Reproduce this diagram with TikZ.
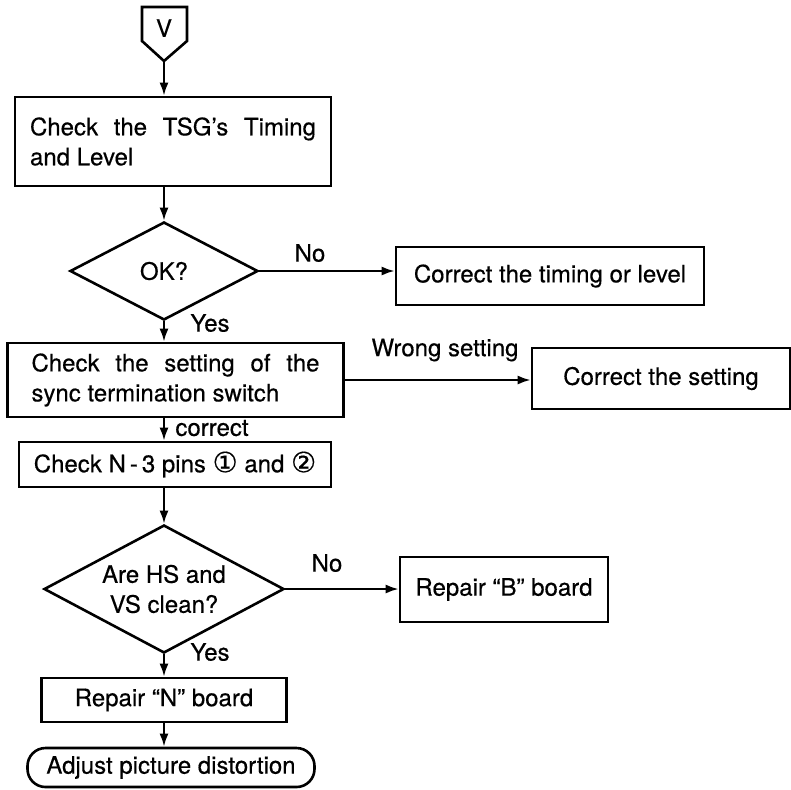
\documentclass[tikz,border=0pt]{standalone}
\usepackage{fontspec}
\setmainfont{TeX Gyre Heros}[FakeBold=0.4]
\newfontfamily\circfont{DejaVu Sans}[FakeBold=0.4]
\usetikzlibrary{arrows.meta, shapes.geometric, calc}

\begin{document}
\begin{tikzpicture}[
        x=0.5pt, y=-0.5pt, % coordonate in pixeli, y in jos
        font=\fontsize{12}{15}\selectfont,
        % --- STILURI ---
        stepbox/.style={
                draw,
                line width=1.3pt,
                inner sep=0pt,
                align=center
            },
        decision/.style={
                diamond,
                draw,
                line width=1.3pt,
                inner sep=0pt,
                shape aspect=1.9,
                align=center
            },
        endcap/.style={
                draw,
                line width=1.3pt,
                rounded corners=9pt,
                inner sep=0pt
            },
        flow/.style={
                -{Latex[length=6.5pt, width=4.5pt]},
                line width=1.1pt
            },
        answer/.style={
                inner sep=1pt
            }
    ]
    \useasboundingbox (0,0) rectangle (791,789);

    % 1. Intrarea V
    \node (entry) at (164,28) {V};
    \draw[line width=1.3pt] (142,7) -- (187,7) -- (187,41) -- (164,61) coordinate (vtip) -- (142,41) -- cycle;

    % 2. Verificare TSG
    \node[stepbox, text width=143pt, inner xsep=7.5pt, minimum height=44.5pt, align=justify] (timing) at (173,141.5)
    {Check the TSG's Timing and Level};
    \node[decision, minimum width=94pt, minimum height=49pt] (ok) at (164,271) {OK?};
    \node[stepbox, minimum width=154pt, minimum height=29pt] (fixlevel) at (550,276) {Correct the timing or level};

    % 3. Comutatorul de terminatie
    \node[stepbox, text width=144pt, inner xsep=12pt, minimum height=37pt, align=justify] (sync) at (175.5,380)
    {Check the setting of the sync termination switch};
    \node[stepbox, minimum width=129pt, minimum height=30.5pt] (fixsync) at (661,378.5) {Correct the setting};

    % 4. Pinii N-3
    \node[stepbox, minimum width=156pt, minimum height=22.5pt] (pins) at (175,464.5)
    {Check N\,-\,3 pins {\circfont\fontsize{14}{15}\selectfont ①} and {\circfont\fontsize{14}{15}\selectfont ②}};
    \node[decision, minimum width=120pt, minimum height=64pt] (clean) at (164,589) {Are HS and\\VS clean?};
    \node[stepbox, minimum width=104pt, minimum height=32.5pt] (fixb) at (504,589.5) {Repair “B” board};
    \node[stepbox, minimum width=122.5pt, minimum height=22pt] (fixn) at (164,700) {Repair “N” board};
    \node[endcap, minimum width=143.5pt, minimum height=19.5pt] (adjust) at (171,767.5) {Adjust picture distortion};

    % 5. Sagetile
    \draw[flow] (vtip) -- (vtip |- timing.north);
    \draw[flow] (ok.north |- timing.south) -- (ok.north);
    \draw[flow] (ok.east) -- (ok.east -| fixlevel.west);
    \draw[flow] (ok.south) -- (ok.south |- sync.north);
    \draw[flow] (sync.east) -- (sync.east -| fixsync.west);
    \draw[flow] (sync.south -| ok) -- (pins.north -| ok);
    \draw[flow] (pins.south -| clean) -- (clean.north);
    \draw[flow] (clean.east) -- (clean.east -| fixb.west);
    \draw[flow] (clean.south) -- (fixn.north);
    \draw[flow] (fixn.south) -- (fixn.south |- adjust.north);

    % Etichete
    \node[answer] (no1) at (310,253) {No};
    \node[answer] (yes1) at (210,323) {Yes};
    \node[answer] (wrong) at (445,350) {Wrong setting};
    \node[answer] (right) at (212,428) {correct};
    \node[answer] (no2) at (327,563) {No};
    \node[answer] (yes2) at (210,652) {Yes};

\end{tikzpicture}
\end{document}
